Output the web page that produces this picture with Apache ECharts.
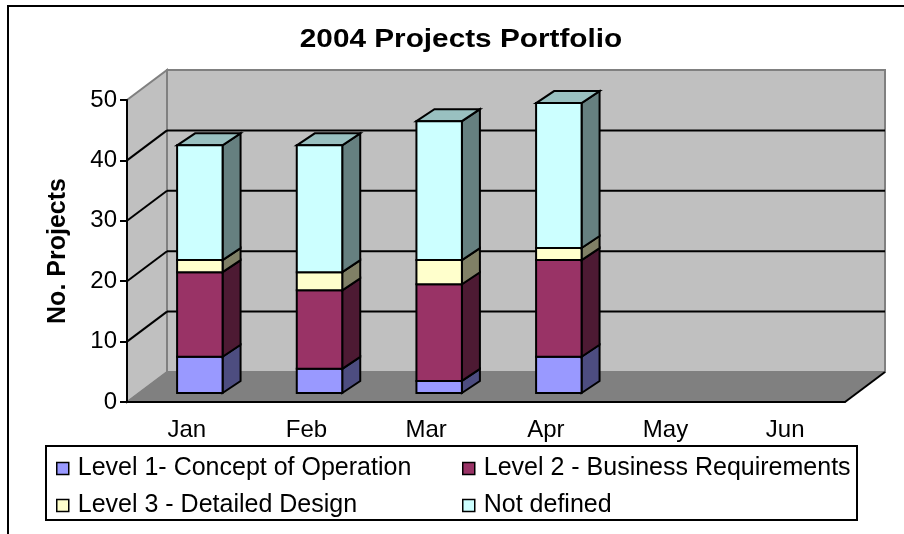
<!DOCTYPE html>
<html>
<head>
<meta charset="utf-8">
<title>2004 Projects Portfolio</title>
<script src="https://cdn.jsdelivr.net/npm/echarts@6/dist/echarts.min.js"></script>
<style>
  html, body { margin: 0; padding: 0; background: #fff; }
  #main { width: 904px; height: 534px; }
</style>
</head>
<body>
<div id="main"></div>
<script>
// data
var months = ['Jan', 'Feb', 'Mar', 'Apr', 'May', 'Jun']
var level1 = [6, 4, 2, 6]
var level2 = [14, 13, 16, 16]
var level3 = [2, 3, 4, 2]
var notDefined = [19, 21, 23, 24]
var seriesNames = [
  'Level 1- Concept of Operation',
  'Level 2 - Business Requirements',
  'Level 3 - Detailed Design',
  'Not defined'
]
var gridValues = [10, 20, 30, 40]

var FONT = "'Liberation Sans', Arial, sans-serif"

// depth of the 3d box (back wall offset) and of the bars
var WALL_DX = 40
var WALL_DY = 30
var BAR_SHIFT_X = 13
var BAR_SHIFT_Y = 9
var BAR_DX = 18
var BAR_DY = 12

// stack the series: [categoryIndex, base, top]
var stacks = [level1, level2, level3, notDefined]
var stackedData = []
var running = months.map(function () { return 0 })
stacks.forEach(function (values) {
  var rows = []
  values.forEach(function (v, i) {
    rows.push([i, running[i], running[i] + v])
    running[i] += v
  })
  stackedData.push(rows)
})

function renderWalls(params, api) {
  var cs = params.coordSys
  var l = cs.x
  var t = cs.y
  var r = cs.x + cs.width
  var b = cs.y + cs.height
  var children = [
    {
      type: 'polygon',
      shape: { points: [[l, b], [l, t], [l + WALL_DX, t - WALL_DY], [l + WALL_DX, b - WALL_DY]] },
      style: { fill: '#c0c0c0', stroke: '#808080', lineWidth: 2 }
    },
    {
      type: 'rect',
      shape: { x: l + WALL_DX, y: t - WALL_DY, width: r - l, height: b - t },
      style: { fill: '#c0c0c0', stroke: '#808080', lineWidth: 2 }
    },
    {
      type: 'polygon',
      shape: { points: [[l, b], [r, b], [r + WALL_DX, b - WALL_DY], [l + WALL_DX, b - WALL_DY]] },
      style: { fill: '#808080', stroke: '#808080', lineWidth: 1 }
    },
    {
      type: 'line',
      shape: { x1: r, y1: b, x2: r + WALL_DX, y2: b - WALL_DY },
      style: { stroke: '#000', lineWidth: 2 }
    }
  ]
  gridValues.forEach(function (v) {
    var y = api.coord([0, v])[1]
    children.push({
      type: 'line',
      shape: { x1: l + WALL_DX, y1: y - WALL_DY, x2: r + WALL_DX, y2: y - WALL_DY },
      style: { stroke: '#000', lineWidth: 2 }
    })
    children.push({
      type: 'line',
      shape: { x1: l, y1: y, x2: l + WALL_DX, y2: y - WALL_DY },
      style: { stroke: '#000', lineWidth: 2 }
    })
  })
  return { type: 'group', children: children }
}

function barRenderer(frontColor, sideColor, topColor) {
  return function (params, api) {
    var i = api.value(0)
    var p0 = api.coord([i, api.value(1)])
    var p1 = api.coord([i, api.value(2)])
    var half = api.size([1, 0])[0] * 0.19
    var x0 = p0[0] + BAR_SHIFT_X - half
    var x1 = p0[0] + BAR_SHIFT_X + half
    var yb = p0[1] - BAR_SHIFT_Y
    var yt = p1[1] - BAR_SHIFT_Y
    var edge = { stroke: '#000', lineWidth: 2, lineJoin: 'miter' }
    var children = [
      {
        type: 'polygon',
        shape: { points: [[x1, yb], [x1 + BAR_DX, yb - BAR_DY], [x1 + BAR_DX, yt - BAR_DY], [x1, yt]] },
        style: Object.assign({ fill: sideColor }, edge)
      }
    ]
    if (topColor) {
      children.push({
        type: 'polygon',
        shape: { points: [[x0, yt], [x0 + BAR_DX, yt - BAR_DY], [x1 + BAR_DX, yt - BAR_DY], [x1, yt]] },
        style: Object.assign({ fill: topColor }, edge)
      })
    }
    children.push({
      type: 'rect',
      shape: { x: x0, y: yt, width: x1 - x0, height: yb - yt },
      style: Object.assign({ fill: frontColor }, edge)
    })
    return { type: 'group', children: children }
  }
}

var colors = [
  { front: '#9999ff', side: '#4d4d80', top: null },
  { front: '#993366', side: '#4d1a33', top: null },
  { front: '#ffffcc', side: '#808066', top: null },
  { front: '#ccffff', side: '#668080', top: '#99c0c0' }
]

var barSeries = stackedData.map(function (rows, k) {
  return {
    name: seriesNames[k],
    type: 'custom',
    coordinateSystem: 'cartesian2d',
    encode: { x: 0, y: [1, 2] },
    itemStyle: { color: colors[k].front },
    renderItem: barRenderer(colors[k].front, colors[k].side, colors[k].top),
    data: rows,
    z: 3
  }
})

var legendBase = {
  orient: 'vertical',
  top: 451,
  icon: 'rect',
  itemWidth: 12,
  itemHeight: 12,
  itemGap: 12,
  selectedMode: false,
  itemStyle: { borderColor: '#000', borderWidth: 1.5 },
  textStyle: { fontSize: 25, color: '#000', fontFamily: FONT, padding: [0, 0, 0, 4] }
}

var chart = echarts.init(document.getElementById('main'))
var option = {
  animation: false,
  backgroundColor: '#fff',
  textStyle: { fontFamily: FONT },
  grid: { left: 127, top: 100, width: 718, height: 302 },
  legend: [
    Object.assign({ left: 51, data: [seriesNames[0], seriesNames[2]] }, legendBase),
    Object.assign({ left: 457, data: [seriesNames[1], seriesNames[3]] }, legendBase)
  ],
  graphic: [
    // outer frame (top and left only)
    { type: 'line', shape: { x1: 7, y1: 6, x2: 904, y2: 6 }, style: { stroke: '#000', lineWidth: 2 } },
    { type: 'line', shape: { x1: 8, y1: 6, x2: 8, y2: 534 }, style: { stroke: '#000', lineWidth: 2 } },
    // legend box
    {
      type: 'rect',
      shape: { x: 46, y: 446, width: 811, height: 74 },
      style: { fill: '#fff', stroke: '#000', lineWidth: 2 }
    },
    {
      type: 'text',
      x: 461,
      y: 40,
      scaleX: 1.19,
      style: {
        text: '2004 Projects Portfolio',
        font: 'bold 25px ' + FONT,
        fill: '#000',
        textAlign: 'center',
        textVerticalAlign: 'middle'
      }
    }
  ],
  xAxis: {
    type: 'category',
    data: months,
    z: 5,
    axisLine: { lineStyle: { color: '#000', width: 2 } },
    axisTick: { length: 7, lineStyle: { color: '#000', width: 2 } },
    axisLabel: { fontSize: 24, color: '#000', margin: 16 }
  },
  yAxis: {
    type: 'value',
    min: 0,
    max: 50,
    interval: 10,
    z: 5,
    name: 'No. Projects',
    nameLocation: 'middle',
    nameGap: 56,
    nameTextStyle: { fontSize: 25, fontWeight: 'bold', color: '#000' },
    axisLine: { show: true, lineStyle: { color: '#000', width: 2 } },
    axisTick: { show: true, length: 7, lineStyle: { color: '#000', width: 2 } },
    axisLabel: { fontSize: 24, color: '#000', margin: 10, padding: [6, 0, 0, 0] },
    splitLine: { show: false }
  },
  series: [
    {
      type: 'custom',
      coordinateSystem: 'cartesian2d',
      silent: true,
      renderItem: renderWalls,
      data: [[0, 0]],
      z: 1
    }
  ].concat(barSeries)
}
option && chart.setOption(option)
</script>
</body>
</html>
